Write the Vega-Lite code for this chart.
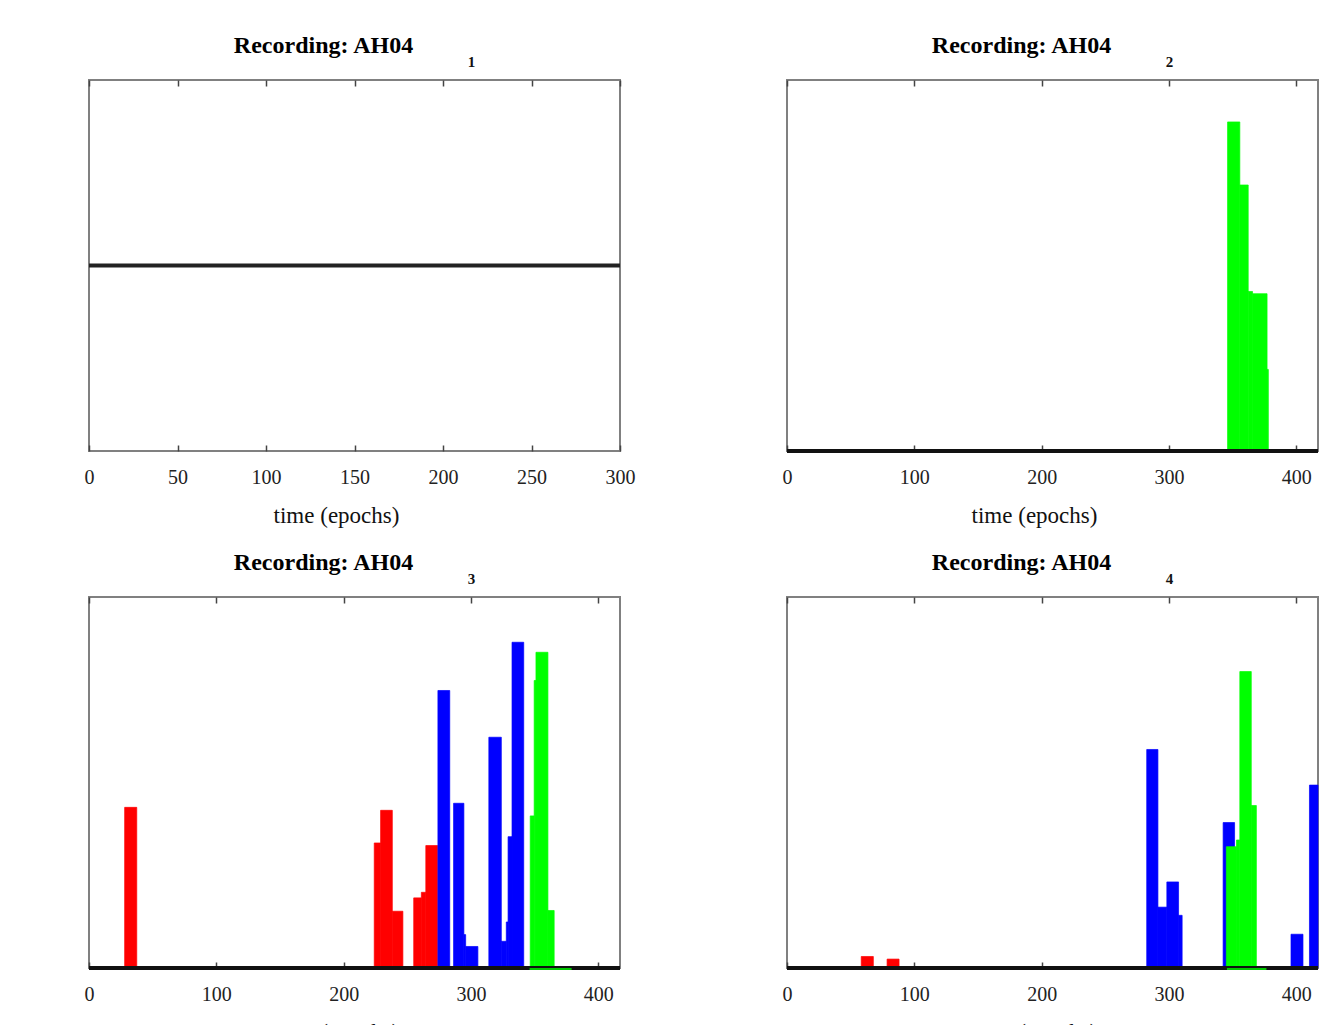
{
  "$schema": "https://vega.github.io/schema/vega-lite/v6.json",
  "background": "white",
  "padding": {"left": 83, "top": 33, "right": 0, "bottom": 0},
  "datasets": {
    "bars": [
      {"panel": 2, "cluster": "green", "start": 346.0, "end": 355.6, "value": 0.887},
      {"panel": 2, "cluster": "green", "start": 355.6, "end": 362.2, "value": 0.717},
      {"panel": 2, "cluster": "green", "start": 362.2, "end": 365.6, "value": 0.43},
      {"panel": 2, "cluster": "green", "start": 365.6, "end": 377.0, "value": 0.424},
      {"panel": 2, "cluster": "green", "start": 377.0, "end": 378.0, "value": 0.22},
      {"panel": 3, "cluster": "red", "start": 28.0, "end": 37.5, "value": 0.433},
      {"panel": 3, "cluster": "red", "start": 224.0, "end": 229.0, "value": 0.337},
      {"panel": 3, "cluster": "red", "start": 229.0, "end": 238.2, "value": 0.425},
      {"panel": 3, "cluster": "red", "start": 238.2, "end": 246.5, "value": 0.153},
      {"panel": 3, "cluster": "red", "start": 255.0, "end": 261.0, "value": 0.189},
      {"panel": 3, "cluster": "red", "start": 261.0, "end": 264.5, "value": 0.204},
      {"panel": 3, "cluster": "red", "start": 264.5, "end": 273.8, "value": 0.33},
      {"panel": 3, "cluster": "blue", "start": 274.0, "end": 283.3, "value": 0.748},
      {"panel": 3, "cluster": "blue", "start": 286.3, "end": 294.4, "value": 0.444},
      {"panel": 3, "cluster": "blue", "start": 294.4, "end": 295.8, "value": 0.09},
      {"panel": 3, "cluster": "blue", "start": 295.8, "end": 305.4, "value": 0.058},
      {"panel": 3, "cluster": "blue", "start": 314.0, "end": 323.8, "value": 0.622},
      {"panel": 3, "cluster": "blue", "start": 323.8, "end": 327.7, "value": 0.072},
      {"panel": 3, "cluster": "blue", "start": 327.7, "end": 329.1, "value": 0.124},
      {"panel": 3, "cluster": "blue", "start": 329.1, "end": 332.2, "value": 0.354},
      {"panel": 3, "cluster": "blue", "start": 332.2, "end": 341.4, "value": 0.878},
      {"panel": 3, "cluster": "green", "start": 346.5, "end": 349.6, "value": 0.41},
      {"panel": 3, "cluster": "green", "start": 349.6, "end": 351.0, "value": 0.775},
      {"panel": 3, "cluster": "green", "start": 351.0, "end": 360.4, "value": 0.851},
      {"panel": 3, "cluster": "green", "start": 360.4, "end": 365.3, "value": 0.155},
      {"panel": 4, "cluster": "red", "start": 58.3, "end": 67.8, "value": 0.031},
      {"panel": 4, "cluster": "red", "start": 78.6, "end": 88.0, "value": 0.024},
      {"panel": 4, "cluster": "blue", "start": 282.5, "end": 291.3, "value": 0.589},
      {"panel": 4, "cluster": "blue", "start": 291.3, "end": 298.3, "value": 0.164},
      {"panel": 4, "cluster": "blue", "start": 298.3, "end": 307.5, "value": 0.232},
      {"panel": 4, "cluster": "blue", "start": 307.5, "end": 310.3, "value": 0.142},
      {"panel": 4, "cluster": "blue", "start": 342.5, "end": 351.5, "value": 0.392},
      {"panel": 4, "cluster": "blue", "start": 395.8, "end": 405.2, "value": 0.091},
      {"panel": 4, "cluster": "blue", "start": 410.3, "end": 417.0, "value": 0.493},
      {"panel": 4, "cluster": "green", "start": 345.0, "end": 353.0, "value": 0.327},
      {"panel": 4, "cluster": "green", "start": 353.0, "end": 355.6, "value": 0.345},
      {"panel": 4, "cluster": "green", "start": 355.6, "end": 364.6, "value": 0.799},
      {"panel": 4, "cluster": "green", "start": 364.6, "end": 368.6, "value": 0.438}
    ],
    "base": [
      {"panel": 1, "x0": 0, "x1": 300, "y": 0},
      {"panel": 2, "x0": 0, "x1": 417, "y": 0},
      {"panel": 3, "x0": 0, "x1": 417, "y": 0},
      {"panel": 4, "x0": 0, "x1": 417, "y": 0}
    ],
    "strip": [
      {"panel": 3, "x0": 346, "x1": 379, "y": 0},
      {"panel": 4, "x0": 345.5, "x1": 376.5, "y": 0}
    ]
  },
  "columns": 2,
  "spacing": {"row": 146, "column": 167},
  "bounds": "flush",
  "concat": [
    {
      "width": 531, "height": 371,
      "title": {"text": "Recording: AH04", "dx": -31, "offset": -4},
      "layer": [
        {
          "data": {"name": "base"},
          "transform": [{"filter": "datum.panel == 1"}],
          "mark": {"type": "rule", "color": "#222222", "strokeWidth": 4},
          "encoding": {
            "x": {"field": "x0", "type": "quantitative", "scale": {"domain": [0, 300], "nice": false},
                  "axis": {"orient": "bottom", "values": [0, 50, 100, 150, 200, 250, 300], "title": "time (epochs)"}},
            "x2": {"field": "x1"},
            "y": {"field": "y", "type": "quantitative", "scale": {"domain": [-1, 1]}, "axis": null}
          }
        },
        {
          "data": {"name": "base"},
          "transform": [{"filter": "datum.panel == 1"}],
          "mark": {"type": "rule", "opacity": 0},
          "encoding": {
            "x": {"field": "x0", "type": "quantitative", "scale": {"domain": [0, 300], "nice": false},
                  "axis": {"orient": "top", "values": [0, 50, 100, 150, 200, 250, 300], "labels": false, "title": "1",
                           "titleFontSize": 15, "titleFontWeight": "bold", "titleX": 382, "titleY": -19, "titleBaseline": "middle"}},
            "x2": {"field": "x1"},
            "y": {"field": "y", "type": "quantitative", "scale": {"domain": [-1, 1]}, "axis": null}
          }
        }
      ],
      "resolve": {"axis": {"x": "independent"}}
    },
    {
      "width": 531, "height": 371,
      "title": {"text": "Recording: AH04", "dx": -31, "offset": -4},
      "layer": [
        {
          "data": {"name": "bars"},
          "transform": [{"filter": "datum.panel == 2"}],
          "mark": {"type": "rect", "strokeWidth": 0.7},
          "encoding": {
            "x": {"field": "start", "type": "quantitative", "scale": {"domain": [0, 417], "nice": false},
                  "axis": {"orient": "bottom", "values": [0, 100, 200, 300, 400], "title": "time (epochs)"}},
            "x2": {"field": "end"},
            "y": {"field": "value", "type": "quantitative", "scale": {"domain": [0, 1]}, "axis": null},
            "y2": {"datum": 0},
            "color": {"field": "cluster", "type": "nominal", "scale": {"domain": ["red", "blue", "green"], "range": ["#ff0000", "#0000ff", "#00ff00"]}, "legend": null},
            "stroke": {"field": "cluster", "type": "nominal", "scale": {"domain": ["red", "blue", "green"], "range": ["#ff0000", "#0000ff", "#00ff00"]}, "legend": null}
          }
        },
        {
          "data": {"name": "base"},
          "transform": [{"filter": "datum.panel == 2"}],
          "mark": {"type": "rule", "color": "#111111", "strokeWidth": 4},
          "encoding": {
            "x": {"field": "x0", "type": "quantitative", "scale": {"domain": [0, 417], "nice": false},
                  "axis": {"orient": "top", "values": [0, 100, 200, 300, 400], "labels": false, "title": "2",
                           "titleFontSize": 15, "titleFontWeight": "bold", "titleX": 382, "titleY": -19, "titleBaseline": "middle"}},
            "x2": {"field": "x1"},
            "y": {"field": "y", "type": "quantitative", "scale": {"domain": [0, 1]}, "axis": null}
          }
        }
      ],
      "resolve": {"axis": {"x": "independent"}}
    },
    {
      "width": 531, "height": 371,
      "title": {"text": "Recording: AH04", "dx": -31, "offset": -4},
      "layer": [
        {
          "data": {"name": "bars"},
          "transform": [{"filter": "datum.panel == 3"}],
          "mark": {"type": "rect", "strokeWidth": 0.7},
          "encoding": {
            "x": {"field": "start", "type": "quantitative", "scale": {"domain": [0, 417], "nice": false},
                  "axis": {"orient": "bottom", "values": [0, 100, 200, 300, 400], "title": "time (epochs)"}},
            "x2": {"field": "end"},
            "y": {"field": "value", "type": "quantitative", "scale": {"domain": [0, 1]}, "axis": null},
            "y2": {"datum": 0},
            "color": {"field": "cluster", "type": "nominal", "scale": {"domain": ["red", "blue", "green"], "range": ["#ff0000", "#0000ff", "#00ff00"]}, "legend": null},
            "stroke": {"field": "cluster", "type": "nominal", "scale": {"domain": ["red", "blue", "green"], "range": ["#ff0000", "#0000ff", "#00ff00"]}, "legend": null}
          }
        },
        {
          "data": {"name": "base"},
          "transform": [{"filter": "datum.panel == 3"}],
          "mark": {"type": "rule", "color": "#111111", "strokeWidth": 4},
          "encoding": {
            "x": {"field": "x0", "type": "quantitative", "scale": {"domain": [0, 417], "nice": false},
                  "axis": {"orient": "top", "values": [0, 100, 200, 300, 400], "labels": false, "title": "3",
                           "titleFontSize": 15, "titleFontWeight": "bold", "titleX": 382, "titleY": -19, "titleBaseline": "middle"}},
            "x2": {"field": "x1"},
            "y": {"field": "y", "type": "quantitative", "scale": {"domain": [0, 1]}, "axis": null}
          }
        },
        {
          "data": {"name": "strip"},
          "transform": [{"filter": "datum.panel == 3"}],
          "mark": {"type": "rule", "color": "#00c800", "strokeWidth": 2, "yOffset": 1},
          "encoding": {
            "x": {"field": "x0", "type": "quantitative", "axis": null},
            "x2": {"field": "x1"},
            "y": {"field": "y", "type": "quantitative", "axis": null}
          }
        }
      ],
      "resolve": {"axis": {"x": "independent"}}
    },
    {
      "width": 531, "height": 371,
      "title": {"text": "Recording: AH04", "dx": -31, "offset": -4},
      "layer": [
        {
          "data": {"name": "bars"},
          "transform": [{"filter": "datum.panel == 4"}],
          "mark": {"type": "rect", "strokeWidth": 0.7},
          "encoding": {
            "x": {"field": "start", "type": "quantitative", "scale": {"domain": [0, 417], "nice": false},
                  "axis": {"orient": "bottom", "values": [0, 100, 200, 300, 400], "title": "time (epochs)"}},
            "x2": {"field": "end"},
            "y": {"field": "value", "type": "quantitative", "scale": {"domain": [0, 1]}, "axis": null},
            "y2": {"datum": 0},
            "color": {"field": "cluster", "type": "nominal", "scale": {"domain": ["red", "blue", "green"], "range": ["#ff0000", "#0000ff", "#00ff00"]}, "legend": null},
            "stroke": {"field": "cluster", "type": "nominal", "scale": {"domain": ["red", "blue", "green"], "range": ["#ff0000", "#0000ff", "#00ff00"]}, "legend": null}
          }
        },
        {
          "data": {"name": "base"},
          "transform": [{"filter": "datum.panel == 4"}],
          "mark": {"type": "rule", "color": "#111111", "strokeWidth": 4},
          "encoding": {
            "x": {"field": "x0", "type": "quantitative", "scale": {"domain": [0, 417], "nice": false},
                  "axis": {"orient": "top", "values": [0, 100, 200, 300, 400], "labels": false, "title": "4",
                           "titleFontSize": 15, "titleFontWeight": "bold", "titleX": 382, "titleY": -19, "titleBaseline": "middle"}},
            "x2": {"field": "x1"},
            "y": {"field": "y", "type": "quantitative", "scale": {"domain": [0, 1]}, "axis": null}
          }
        },
        {
          "data": {"name": "strip"},
          "transform": [{"filter": "datum.panel == 4"}],
          "mark": {"type": "rule", "color": "#00c800", "strokeWidth": 2, "yOffset": 1},
          "encoding": {
            "x": {"field": "x0", "type": "quantitative", "axis": null},
            "x2": {"field": "x1"},
            "y": {"field": "y", "type": "quantitative", "axis": null}
          }
        }
      ],
      "resolve": {"axis": {"x": "independent"}}
    }
  ],
  "config": {
    "view": {"stroke": "#808080", "strokeWidth": 2},
    "font": "Liberation Serif",
    "title": {"font": "Liberation Serif", "fontSize": 24, "fontWeight": "bold", "color": "#000000", "anchor": "middle"},
    "axis": {
      "domain": false, "grid": false,
      "tickSize": -6, "tickColor": "#444444", "tickWidth": 1.5,
      "labelFont": "Liberation Serif", "labelFontSize": 20, "labelColor": "#222222", "labelPadding": 22, "labelFlush": false,
      "titleFont": "Liberation Serif", "titleColor": "#111111"
    },
    "axisBottom": {"titleFontSize": 23, "titleFontWeight": "normal", "titleX": 247, "titleY": 64, "titleBaseline": "middle"}
  }
}
